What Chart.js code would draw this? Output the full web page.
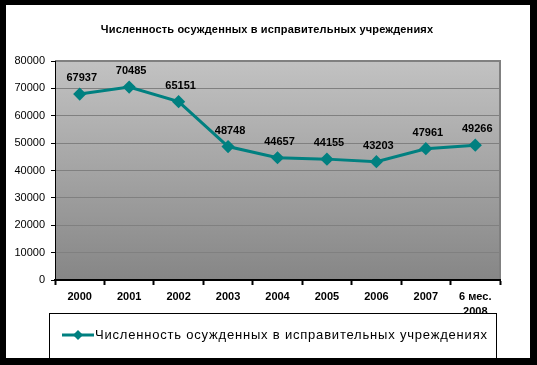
<!DOCTYPE html>
<html>
<head>
<meta charset="utf-8">
<script src="https://cdn.jsdelivr.net/npm/chart.js@4"></script>
<style>
    html, body { margin: 0; padding: 0; background: #fff; }
    canvas { display: block; }
</style>
</head>
<body>
<canvas id="chart" width="537" height="365"></canvas>
<script>
// data
const categories = ["2000", "2001", "2002", "2003", "2004", "2005", "2006", "2007", ["6 мес.", "2008"]];
const convicts = [67937, 70485, 65151, 48748, 44657, 44155, 43203, 47961, 49266];
const yTicks = [0, 10000, 20000, 30000, 40000, 50000, 60000, 70000, 80000];

const titleText = "Численность осужденных в исправительных учреждениях";
const seriesName = "Численность осужденных в исправительных учреждениях";
const teal = "#008080";

// ---------- plot background (gradient + grey frame) ----------
const backgroundPlugin = {
    id: "plotBackground",
    beforeDraw(chart) {
        const { ctx, chartArea: a } = chart;
        ctx.save();
        const g = ctx.createLinearGradient(0, a.top, 0, a.bottom);
        g.addColorStop(0, "#c2c2c2");
        g.addColorStop(1, "#868686");
        ctx.fillStyle = g;
        ctx.fillRect(a.left, a.top, a.right - a.left, a.bottom - a.top);
        ctx.strokeStyle = "#808080";
        ctx.lineWidth = 2;
        ctx.beginPath();
        ctx.moveTo(a.left, a.top);
        ctx.lineTo(a.right, a.top);
        ctx.lineTo(a.right, a.bottom);
        ctx.stroke();
        ctx.restore();
    },
};

// ---------- title, value labels, legend box, black frame ----------
const overlayPlugin = {
    id: "overlay",
    afterDraw(chart) {
        const { ctx } = chart;
        ctx.save();

        // title
        ctx.fillStyle = "#000";
        ctx.font = "bold 11px Arial, 'Liberation Sans', sans-serif";
        ctx.textAlign = "center";
        ctx.textBaseline = "middle";
        ctx.letterSpacing = "0.15px";
        ctx.fillText(titleText, 267, 30);

        // value labels above points
        ctx.letterSpacing = "0px";
        const meta = chart.getDatasetMeta(0);
        meta.data.forEach((pt, i) => {
            ctx.fillText(String(convicts[i]), pt.x + 2, pt.y - 16);
        });

        // legend box
        ctx.fillStyle = "#fff";
        ctx.fillRect(49, 313, 448, 50);
        ctx.strokeStyle = "#000";
        ctx.lineWidth = 1;
        ctx.strokeRect(49.5, 313.5, 447, 50);

        ctx.strokeStyle = teal;
        ctx.lineWidth = 3;
        ctx.beginPath();
        ctx.moveTo(62, 335);
        ctx.lineTo(94, 335);
        ctx.stroke();
        ctx.fillStyle = teal;
        ctx.beginPath();
        ctx.moveTo(78, 330);
        ctx.lineTo(83, 335);
        ctx.lineTo(78, 340);
        ctx.lineTo(73, 335);
        ctx.closePath();
        ctx.fill();

        ctx.fillStyle = "#000";
        ctx.font = "13px Arial, 'Liberation Sans', sans-serif";
        ctx.textAlign = "left";
        ctx.letterSpacing = "0.8px";
        ctx.fillText(seriesName, 95, 335);
        ctx.letterSpacing = "0px";

        // black outer frame
        ctx.fillStyle = "#000";
        ctx.fillRect(0, 0, 537, 5);
        ctx.fillRect(0, 0, 6, 365);
        ctx.fillRect(530, 0, 7, 365);
        ctx.fillRect(0, 358, 537, 7);

        ctx.restore();
    },
};

new Chart(document.getElementById("chart"), {
    type: "line",
    data: {
        labels: categories,
        datasets: [
            {
                label: seriesName,
                data: convicts,
                borderColor: teal,
                backgroundColor: teal,
                borderWidth: 3,
                pointStyle: "rectRot",
                pointRadius: 4.5,
                pointHoverRadius: 4.5,
                pointBackgroundColor: teal,
                pointBorderColor: teal,
                tension: 0,
                fill: false,
            },
        ],
    },
    options: {
        responsive: false,
        animation: false,
        events: [],
        layout: {
            padding: { left: 5, right: 37, top: 61, bottom: 45 },
        },
        plugins: {
            legend: { display: false },
            title: { display: false },
            tooltip: { enabled: false },
        },
        scales: {
            x: {
                type: "category",
                offset: true,
                afterFit: (s) => { s.height = 40; },
                grid: {
                    offset: true,
                    drawOnChartArea: false,
                    drawTicks: true,
                    tickLength: 5,
                    tickColor: "#000",
                    tickWidth: 2,
                },
                border: { color: "#000", width: 2 },
                ticks: {
                    color: "#000",
                    font: { family: "Arial, 'Liberation Sans', sans-serif", size: 11, weight: "bold", lineHeight: 1.4 },
                    padding: 4,
                    maxRotation: 0,
                    autoSkip: false,
                },
            },
            y: {
                min: 0,
                max: 80000,
                afterFit: (s) => { s.width = 50; },
                afterBuildTicks: (s) => { s.ticks = yTicks.map((v) => ({ value: v })); },
                grid: {
                    color: "#808080",
                    lineWidth: 1,
                    tickLength: 4,
                    tickColor: "#000",
                },
                border: { color: "#000", width: 1 },
                ticks: {
                    color: "#000",
                    font: { family: "Arial, 'Liberation Sans', sans-serif", size: 11 },
                    padding: 6,
                    callback: (v) => String(v),
                },
            },
        },
    },
    plugins: [backgroundPlugin, overlayPlugin],
});
</script>
</body>
</html>
